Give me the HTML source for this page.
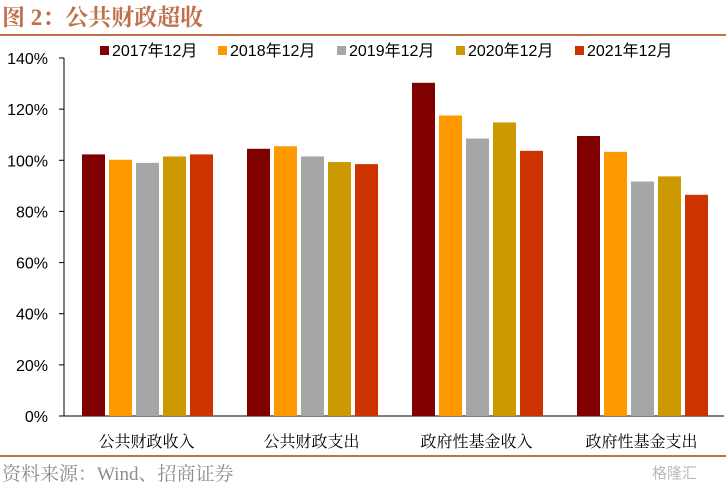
<!DOCTYPE html>
<html><head><meta charset="utf-8">
<style>
body{margin:0;background:#fff;width:726px;height:487px;overflow:hidden;font-family:"Liberation Sans","Noto Sans CJK SC",sans-serif}
</style></head>
<body>
<svg width="726" height="487" xmlns="http://www.w3.org/2000/svg">
<text x="2" y="25" font-size="23" fill="#c0704a" font-family="'Liberation Serif','Noto Serif CJK SC',serif" font-weight="bold">图 2：公共财政超收</text>
<line x1="0" y1="35" x2="726" y2="35" stroke="#c0704a" stroke-width="2"/>
<g id="legend"></g>
<g id="axis"></g>
<g id="bars"></g>
<g id="cats"></g>
<line x1="0" y1="456" x2="726" y2="456" stroke="#c0704a" stroke-width="2"/>
<text x="2" y="480" font-size="19" fill="#8c8c8c" font-family="'Liberation Serif','Noto Serif CJK SC',serif">资料来源：Wind、招商证券</text>
<text x="652" y="478" font-size="15" fill="#bbb">格隆汇</text>
</svg>
<script>
const categories=["公共财政收入","公共财政支出","政府性基金收入","政府性基金支出"];
const seriesNames=["2017年12月","2018年12月","2019年12月","2020年12月","2021年12月"];
const s2017=[102.3,104.5,130.3,109.5];
const s2018=[100.2,105.5,117.5,103.3];
const s2019=[99,101.5,108.5,91.7];
const s2020=[101.5,99.3,114.8,93.7];
const s2021=[102.3,98.5,103.7,86.5];
const yTicks=[0,20,40,60,80,100,120,140];
const series=[s2017,s2018,s2019,s2020,s2021];
const colors=["#800000","#ff9900","#a6a6a6","#cc9900","#cc3300"];
const NS="http://www.w3.org/2000/svg";
const x0=64,groupW=165,y0=416,yTop=58,yMax=140;
const y=v=>y0-(v/yMax)*(y0-yTop);
function mk(tag,attrs,parent){const e=document.createElementNS(NS,tag);for(const k in attrs)e.setAttribute(k,attrs[k]);parent.appendChild(e);return e;}
const ax=document.getElementById('axis');
yTicks.forEach(t=>{
  const tx=mk('text',{x:48,y:y(t)+6,'font-size':16,'text-anchor':'end',fill:'#000'},ax);
  tx.textContent=t+'%';
  
  
  const l=mk('line',{x1:x0-5,x2:x0,y1:y(t),y2:y(t),stroke:'#000'},ax);
  
  
});
const yl=mk('line',{x1:x0,x2:x0,y1:yTop,y2:y0,stroke:'#000'},ax);


const xl=mk('line',{x1:x0,x2:x0+groupW*categories.length,y1:y0,y2:y0,stroke:'#000'},ax);


const bg=document.getElementById('bars');
series.forEach((s,si)=>{
  s.forEach((v,ci)=>{
    const r=mk('rect',{x:x0+ci*groupW+18+si*27,y:y(v),width:23,height:y0-y(v),fill:colors[si]},bg);
    
    
  });
});
const cg=document.getElementById('cats');
categories.forEach((c,ci)=>{
  const t=mk('text',{x:x0+ci*groupW+groupW/2,y:447,'font-size':16,'text-anchor':'middle',fill:'#000','font-family':"'Liberation Serif','Noto Serif CJK SC',serif"},cg);
  t.textContent=c;
  
  
});
const lg=document.getElementById('legend');
const lx=[100,218,337,456,575];
seriesNames.forEach((n,i)=>{
  const r=mk('rect',{x:lx[i],y:46,width:9,height:9,fill:colors[i]},lg);
  
  
  const t=mk('text',{x:lx[i]+12,y:56,'font-size':16,fill:'#000'},lg);
  t.textContent=n;
  
  
});
</script>
</body></html>
